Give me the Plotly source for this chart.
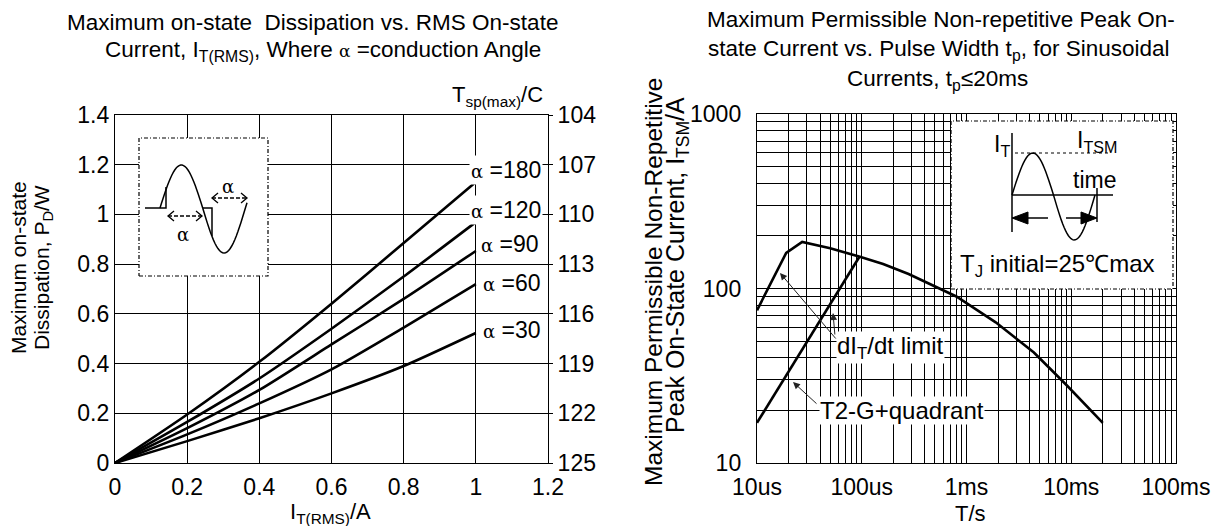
import numpy as np
import plotly.graph_objects as go

W, H = 1220, 526

# ---------------- left chart: on-state dissipation ----------------
i_rms = [0, 0.2, 0.4, 0.6, 0.8, 1.0]
pd_180 = [0, 0.195, 0.407, 0.641, 0.885, 1.13]
pd_120 = [0, 0.165, 0.34, 0.54, 0.75, 0.969]
pd_90 = [0, 0.14, 0.294, 0.477, 0.66, 0.853]
pd_60 = [0, 0.115, 0.24, 0.377, 0.545, 0.72]
pd_30 = [0, 0.088, 0.18, 0.28, 0.39, 0.523]
angle_labels = ["180", "120", "90", "60", "30"]
tsp_ticks = [104, 107, 110, 113, 116, 119, 122, 125]

# ---------------- right chart: surge current vs pulse width ----------------
t_itsm = [1e-5, 1.9e-5, 2.7e-5, 5.0e-5, 9.6e-5, 1.6e-4, 2.8e-4, 8.0e-4, 1.9e-3, 4.4e-3, 9.0e-3, 2.0e-2]
i_tsm = [75, 160, 185, 170, 152, 138, 121, 90, 64, 43, 28, 17]
t_gate = [1e-5, 9.5e-5]
i_gate = [17, 152]
t_decades = [1e-5, 1e-4, 1e-3, 1e-2, 1e-1]
t_labels = ["10us", "100us", "1ms", "10ms", "100ms"]
i_decades = [10, 100, 1000]
i_labels = ["10", "100", "1000"]

FONT = "Liberation Sans, Arial, sans-serif"
SERIF = "DejaVu Serif, serif"
TICK = 23

# plot areas in pixels
LX0, LX1, LY0, LY1 = 115, 548, 115, 463
RX0, RX1, RY0, RY1 = 757, 1176, 114, 463


def px(x):
    return x / W


def py(y):
    return 1 - y / H


def ld(x, y):
    return (x - LX0) / (LX1 - LX0), (LY1 - y) / (LY1 - LY0)


def rd(x, y):
    return (x - RX0) / (RX1 - RX0), (RY1 - y) / (RY1 - RY0)


def path(points, conv, close=False):
    pts = [conv(x, y) for x, y in points]
    s = "M " + " L ".join(f"{a:.5f},{b:.5f}" for a, b in pts)
    return s + (" Z" if close else "")


def box_trace(x0, x1, y0, y1, conv_x, conv_y, xa, ya):
    """White, dash-dot framed panel that hides the grid behind an inset sketch."""
    xs = [conv_x(x0), conv_x(x1), conv_x(x1), conv_x(x0), conv_x(x0)]
    ys = [conv_y(y0), conv_y(y0), conv_y(y1), conv_y(y1), conv_y(y0)]
    return go.Scatter(x=xs, y=ys, mode="lines", fill="toself", fillcolor="white",
                      line=dict(color="black", width=1.2, dash="4px,2px,1px,2px"),
                      xaxis=xa, yaxis=ya, showlegend=False, hoverinfo="skip")


fig = go.Figure()

# inset panels (drawn first so the curves sit on top)
fig.add_trace(box_trace(139, 268, 276, 138,
                        lambda p: (p - LX0) / (LX1 - LX0) * 1.2,
                        lambda p: (LY1 - p) / (LY1 - LY0) * 1.4, "x", "y"))
fig.add_trace(box_trace(951, 1173, 289, 121,
                        lambda p: 10 ** (-5 + 4 * (p - RX0) / (RX1 - RX0)),
                        lambda p: 10 ** (1 + 2 * (RY1 - p) / (RY1 - RY0)), "x2", "y3"))

for vals in [pd_180, pd_120, pd_90, pd_60, pd_30]:
    fig.add_trace(go.Scatter(x=i_rms, y=vals, mode="lines",
                             line=dict(color="black", width=2.6, shape="spline", smoothing=0.6),
                             xaxis="x", yaxis="y", showlegend=False, hoverinfo="skip"))
# invisible trace to anchor the case-temperature axis
fig.add_trace(go.Scatter(x=[0], y=[125], mode="markers", marker=dict(opacity=0),
                         xaxis="x", yaxis="y2", showlegend=False, hoverinfo="skip"))

fig.add_trace(go.Scatter(x=t_itsm, y=i_tsm, mode="lines", line=dict(color="black", width=2.6),
                         xaxis="x2", yaxis="y3", showlegend=False, hoverinfo="skip"))
fig.add_trace(go.Scatter(x=t_gate, y=i_gate, mode="lines", line=dict(color="black", width=2.6),
                         xaxis="x2", yaxis="y3", showlegend=False, hoverinfo="skip"))

# log grid positions (1..9 in each decade)
t_grid = [m * d for d in t_decades[:-1] for m in range(1, 10)] + [t_decades[-1]]
t_text = [t_labels[t_decades.index(v)] if v in t_decades else "" for v in t_grid]
i_grid = [m * d for d in i_decades[:-1] for m in range(1, 10)] + [i_decades[-1]]
i_text = [i_labels[i_decades.index(v)] if v in i_decades else "" for v in i_grid]

axis_common = dict(showline=True, linecolor="black", linewidth=1.4, mirror=True,
                   showgrid=True, gridcolor="black", gridwidth=1.1, zeroline=False, automargin=False,
                   tickfont=dict(family=FONT, size=TICK, color="black"), ticks="")

fig.update_layout(
    width=W, height=H, margin=dict(l=0, r=0, t=0, b=0, pad=0, autoexpand=False),
    paper_bgcolor="white", plot_bgcolor="white",
    font=dict(family=FONT, color="black"),
    xaxis=dict(domain=[px(LX0), px(LX1)], range=[0, 1.2], dtick=0.2, anchor="y",
               ticklabelstandoff=3, **axis_common),
    yaxis=dict(domain=[py(LY1), py(LY0)], range=[0, 1.4], dtick=0.2, anchor="x", **axis_common),
    yaxis2=dict(overlaying="y", side="right", anchor="x", range=[125, 104], tickvals=tsp_ticks,
                showgrid=False, zeroline=False, showline=False, ticks="outside", ticklen=4,
                automargin=False, tickcolor="black",
                tickfont=dict(family=FONT, size=TICK, color="black")),
    xaxis2=dict(domain=[px(RX0), px(RX1)], type="log", range=[-5, -1], tickvals=t_grid,
                ticktext=t_text, anchor="y3", ticklabelstandoff=3, **axis_common),
    yaxis3=dict(domain=[py(RY1), py(RY0)], type="log", range=[1, 3], tickvals=i_grid,
                ticktext=i_text, anchor="x2", ticklabelstandoff=10, **axis_common),
)

shapes = []
ann = []


def add_path(points, conv, xr, yr, line, close=False, fill=None):
    d = dict(type="path", xref=xr, yref=yr, layer="above", path=path(points, conv, close), line=line)
    if fill:
        d["fillcolor"] = fill
    shapes.append(d)


def add_text(txt, x, y, xr="paper", yr="paper", conv=None, size=20, family=FONT, angle=0, **kw):
    if conv is None:
        a, b = px(x), py(y)
    else:
        a, b = conv(x, y)
    ann.append(dict(xref=xr, yref=yr, x=a, y=b, text=txt, showarrow=False, textangle=angle,
                    xanchor="center", yanchor="middle",
                    font=dict(family=family, size=size, color="black"), **kw))


# ---------- left inset: phase-controlled sine ----------
ins_line = dict(color="black", width=1.5)
base_y = 208
pos = [(x, base_y - 43 * np.sin(np.pi * (x - 160) / 42.7)) for x in np.linspace(160, 202.7, 30)]
neg = [(x, base_y - 45 * np.sin(np.pi * (x - 160) / 42.7)) for x in np.linspace(202.7, 247, 30)]
for p in [[(145, base_y), (166, base_y), (166, 187)], pos,
          [(202.7, base_y), (212, base_y), (212, 236)], neg]:
    add_path(p, ld, "x domain", "y domain", ins_line)
for (xa, xb, yy) in [(168, 202, 216), (212, 247, 198)]:
    add_path([(xa, yy), (xb, yy)], ld, "x domain", "y domain", dict(color="black", width=1.3, dash="4px,2px"))
    add_path([(xa + 6, yy - 5), (xa, yy), (xa + 6, yy + 5)], ld, "x domain", "y domain", dict(color="black", width=1.3))
    add_path([(xb - 6, yy - 5), (xb, yy), (xb - 6, yy + 5)], ld, "x domain", "y domain", dict(color="black", width=1.3))
for (x, y) in [(183, 234), (228, 186)]:
    add_text("α", x, y, "x domain", "y domain", ld, size=18, family=SERIF)

# curve labels
for lab, (x, y) in zip(angle_labels, [(506, 170), (506, 210), (510, 244), (512, 283), (512, 330)]):
    add_text(f"<span style='font-family:DejaVu Serif;font-size:18px'>α</span> ={lab}", x, y,
             "x domain", "y domain", ld, size=23, bgcolor="white", borderpad=1)

# ---------- right inset: surge waveform ----------
rb = 195
wave = [(x, rb - (42 if x < 1053.5 else 45) * np.sin(2 * np.pi * (x - 1012) / 83))
        for x in np.linspace(1012, 1095, 60)]
for p in [[(1012, 133), (1012, 232)], [(1012, rb), (1113, rb)], wave,
          [(1097, 188), (1097, 222)], [(1014, 218), (1048, 218)], [(1066, 218), (1095, 218)]]:
    add_path(p, rd, "x2 domain", "y3 domain", ins_line)
add_path([(1015, 153), (1110, 153)], rd, "x2 domain", "y3 domain", dict(color="black", width=1.2, dash="dot"))
for tri in [[(1012, 218), (1028, 212), (1028, 224)], [(1097, 218), (1081, 212), (1081, 224)]]:
    add_path(tri, rd, "x2 domain", "y3 domain", dict(color="black", width=1), close=True, fill="black")

for txt, (x, y), s in [("I<sub>T</sub>", (1002, 145), 23), ("I<sub>TSM</sub>", (1097, 142), 23),
                       ("time", (1094, 180), 23), ("T<sub>J</sub> initial=25℃max", (1057, 265), 24)]:
    add_text(txt, x, y, "x2 domain", "y3 domain", rd, size=s)

# right chart labels with pointer arrows
for txt, (x, y) in [("dI<sub>T</sub>/dt limit", (891, 347)), ("T2-G+quadrant", (902, 410))]:
    add_text(txt, x, y, "x2 domain", "y3 domain", rd, size=24, bgcolor="white", borderpad=0)
for (hx, hy), (tx, ty) in [((780, 273), (837, 340)), ((833, 313), (835, 336)), ((793, 382), (818, 405))]:
    a, b = rd(hx, hy)
    ann.append(dict(xref="x2 domain", yref="y3 domain", x=a, y=b, text="", showarrow=True,
                    ax=tx - hx, ay=ty - hy, arrowhead=2, arrowsize=1.4, arrowwidth=1,
                    arrowcolor="#222"))

# ---------- titles ----------
for txt, x, y, s in [
    ("Maximum on-state  Dissipation vs. RMS On-state", 313, 22, 22.5),
    ("Current, I<sub>T(RMS)</sub>, Where <span style='font-family:DejaVu Serif;font-size:17px'>α</span> =conduction Angle", 323, 51, 22.5),
    ("Maximum Permissible Non-repetitive Peak On-", 941, 20, 22.5),
    ("state Current vs. Pulse Width t<sub>p</sub>, for Sinusoidal", 938, 50, 22.5),
    ("Currents, t<sub>p</sub>≤20ms", 937, 80, 22.5),
    ("T<sub>sp(max)</sub>/C", 497, 96, 22),
    ("I<sub>T(RMS)</sub>/A", 330, 513, 22),
    ("T/s", 970, 513, 22),
]:
    add_text(txt, x, y, size=s)

for txt, x, y, s in [("Maximum on-state", 18, 268, 21), ("Dissipation, P<sub>D</sub>/W", 43, 268, 21),
                     ("Maximum Permissible Non-Repetitive", 653, 282, 24.5),
                     ("Peak On-State Current, I<sub>TSM</sub>/A", 677, 265, 25)]:
    add_text(txt, x, y, size=s, angle=-90)

fig.update_layout(shapes=shapes, annotations=ann)
fig.write_html("out.html")
